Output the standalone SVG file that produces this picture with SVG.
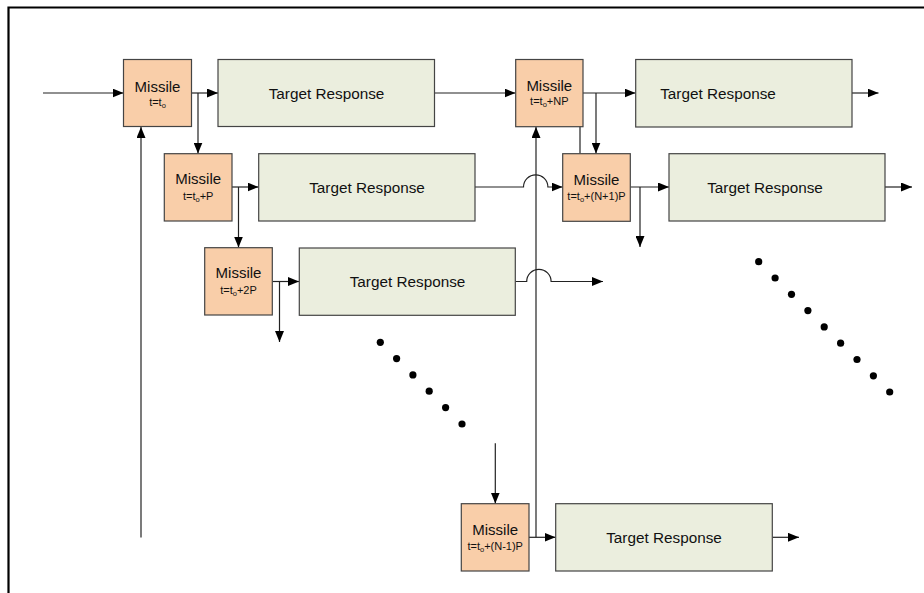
<svg xmlns="http://www.w3.org/2000/svg" width="924" height="593" viewBox="0 0 924 593">
<defs>
<marker id="ah" markerWidth="11" markerHeight="9" refX="11" refY="4.5" orient="auto" markerUnits="userSpaceOnUse">
<path d="M0,0 L11,4.5 L0,9 Z" fill="#000"/>
</marker>
<style>
.m{fill:#F9CEA9;stroke:#444;stroke-width:1.2}
.t{fill:#EBEEDE;stroke:#444;stroke-width:1.2}
.ml{font-family:"Liberation Sans",Arial,sans-serif;font-size:15px;fill:#111;text-anchor:middle}
.sl{font-family:"Liberation Sans",Arial,sans-serif;font-size:11px;fill:#111;text-anchor:middle}
.tl{font-family:"Liberation Sans",Arial,sans-serif;font-size:15.3px;fill:#111;text-anchor:middle}
.c{fill:none;stroke:#222;stroke-width:1.2}
.a{marker-end:url(#ah)}
.d{fill:#000}
</style>
</defs>
<rect width="924" height="593" fill="#fff"/>
<path d="M8.5,593 V7.5 H924" fill="none" stroke="#000" stroke-width="2.2"/>

<g id="connectors">
<line class="c a" x1="43" y1="93" x2="123.5" y2="93"/>
<line class="c a" x1="191.5" y1="93" x2="218" y2="93"/>
<line class="c a" x1="198" y1="93" x2="198" y2="153.5"/>
<line class="c a" x1="141" y1="537.5" x2="141" y2="127"/>
<line class="c a" x1="232" y1="187" x2="258.5" y2="187"/>
<line class="c a" x1="238.5" y1="187" x2="238.5" y2="247.5"/>
<line class="c a" x1="272.5" y1="281.5" x2="299" y2="281.5"/>
<line class="c a" x1="279.5" y1="281.5" x2="279.5" y2="342"/>
<line class="c a" x1="434.5" y1="93" x2="515.5" y2="93"/>
<line class="c a" x1="583" y1="93" x2="635.5" y2="93"/>
<line class="c a" x1="596" y1="93" x2="596" y2="153.5"/>
<line class="c" x1="580" y1="110" x2="580" y2="153.5"/>
<line class="c a" x1="852" y1="93" x2="878.5" y2="93"/>
<path class="c a" d="M475,187 H523.5 A12.2,12.2 0 0 1 547.9,187 H562.5"/>
<line class="c a" x1="630.5" y1="187" x2="669" y2="187"/>
<line class="c a" x1="640" y1="187" x2="640" y2="247"/>
<line class="c a" x1="885" y1="187" x2="912" y2="187"/>
<path class="c a" d="M515.5,281.5 H526.7 A12.2,12.2 0 0 1 551.1,281.5 H603"/>
<line class="c a" x1="536" y1="537.3" x2="536" y2="127"/>
<line class="c a" x1="495.3" y1="443.3" x2="495.3" y2="503.5"/>
<line class="c a" x1="529" y1="537.3" x2="555.5" y2="537.3"/>
<line class="c a" x1="772.5" y1="537.3" x2="799" y2="537.3"/>
</g>

<g id="missile1"><rect class="m" x="123.5" y="59.5" width="68" height="67"/>
<text class="ml" x="157.5" y="91.5">Missile</text>
<text class="sl" x="157.5" y="106">t=t<tspan font-size="7.5" dy="2">o</tspan></text></g>
<g id="target1"><rect class="t" x="218" y="59.5" width="216.5" height="67"/>
<text class="tl" x="326.5" y="98.5">Target Response</text></g>

<g id="missile2"><rect class="m" x="164.3" y="153.7" width="67.7" height="67.3"/>
<text class="ml" x="198.2" y="183.5">Missile</text>
<text class="sl" x="198.2" y="200">t=t<tspan font-size="7.5" dy="2">o</tspan><tspan dy="-2">+P</tspan></text></g>
<g id="target2"><rect class="t" x="258.7" y="153.7" width="216.3" height="67.3"/>
<text class="tl" x="367" y="192.5">Target Response</text></g>

<g id="missile3"><rect class="m" x="204.7" y="247.7" width="67.6" height="67.3"/>
<text class="ml" x="238.5" y="277.5">Missile</text>
<text class="sl" x="238.5" y="294">t=t<tspan font-size="7.5" dy="2">o</tspan><tspan dy="-2">+2P</tspan></text></g>
<g id="target3"><rect class="t" x="299.3" y="248" width="216" height="67.3"/>
<text class="tl" x="407.5" y="287">Target Response</text></g>

<g id="missile4"><rect class="m" x="515.7" y="59.5" width="67.3" height="67.2"/>
<text class="ml" x="549.3" y="91">Missile</text>
<text class="sl" x="549.3" y="105">t=t<tspan font-size="7.5" dy="2">o</tspan><tspan dy="-2">+NP</tspan></text></g>
<g id="target4"><rect class="t" x="635.7" y="59.5" width="216.3" height="67.5"/>
<text class="tl" x="718" y="98.5">Target Response</text></g>

<g id="missile5"><rect class="m" x="562.7" y="153.7" width="67.6" height="67.6"/>
<text class="ml" x="596.5" y="185">Missile</text>
<text class="sl" x="596.5" y="200">t=t<tspan font-size="7.5" dy="2">o</tspan><tspan dy="-2">+(N+1)P</tspan></text></g>
<g id="target5"><rect class="t" x="669" y="153.7" width="216" height="67.3"/>
<text class="tl" x="765" y="192.5">Target Response</text></g>

<g id="missile6"><rect class="m" x="461.3" y="503.7" width="67.7" height="67.3"/>
<text class="ml" x="495.2" y="535">Missile</text>
<text class="sl" x="495.2" y="550">t=t<tspan font-size="7.5" dy="2">o</tspan><tspan dy="-2">+(N-1)P</tspan></text></g>
<g id="target6"><rect class="t" x="555.7" y="503.7" width="216.6" height="67.3"/>
<text class="tl" x="664" y="542.5">Target Response</text></g>

<g id="dots1">
<circle class="d" cx="380.3" cy="342.3" r="3.6"/>
<circle class="d" cx="396.6" cy="358.6" r="3.6"/>
<circle class="d" cx="412.9" cy="374.9" r="3.6"/>
<circle class="d" cx="429.2" cy="391.2" r="3.6"/>
<circle class="d" cx="445.6" cy="407.6" r="3.6"/>
<circle class="d" cx="462" cy="424" r="3.6"/>
</g>
<g id="dots2">
<circle class="d" cx="758.7" cy="261.7" r="3.6"/>
<circle class="d" cx="775.1" cy="278" r="3.6"/>
<circle class="d" cx="791.5" cy="294.3" r="3.6"/>
<circle class="d" cx="807.9" cy="310.6" r="3.6"/>
<circle class="d" cx="824.2" cy="326.9" r="3.6"/>
<circle class="d" cx="840.6" cy="343.2" r="3.6"/>
<circle class="d" cx="857" cy="359.5" r="3.6"/>
<circle class="d" cx="873.4" cy="375.8" r="3.6"/>
<circle class="d" cx="889.7" cy="392" r="3.6"/>
</g>
</svg>
